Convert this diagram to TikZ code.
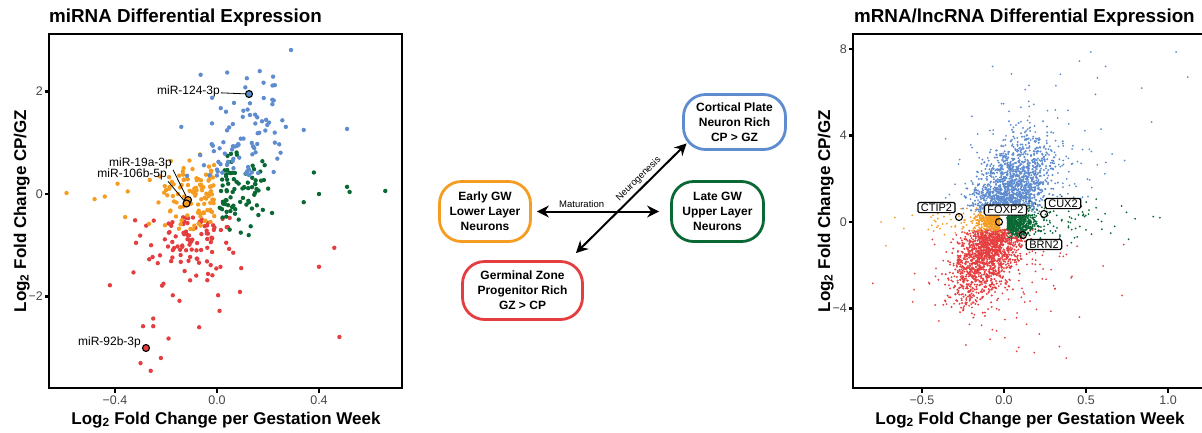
\documentclass[tikz,border=0pt]{standalone}
\usepackage{fontspec}
\setmainfont{Liberation Sans}
\usetikzlibrary{arrows.meta}

\definecolor{cpblue}{RGB}{94,140,206}
\definecolor{gzred}{RGB}{229,62,64}
\definecolor{eworange}{RGB}{245,156,34}
\definecolor{lwgreen}{RGB}{10,104,52}
\definecolor{tickgray}{RGB}{70,70,70}

\tikzset{
  panel/.style={line width=1.7pt},
  axtick/.style={line width=2.8pt},
  ticklabel/.style={text=tickgray, font=\fontsize{12.5}{14}\selectfont, inner sep=0pt},
  axtitle/.style={font=\bfseries\fontsize{17}{20}\selectfont, inner sep=0pt, anchor=base},
  plottitle/.style={font=\bfseries\fontsize{18.8}{22}\selectfont, inner sep=0pt, anchor=base west},
  state/.style={draw, line width=2.8pt, rounded corners=22pt, align=center, font=\bfseries\fontsize{12}{15}\selectfont},
  flow/.style={<->, >={Stealth[length=12pt, width=12pt, inset=4pt]}, line width=2pt},
  flowlabel/.style={font=\fontsize{9.5}{11}\selectfont, inner sep=3pt},
  mirlabel/.style={font=\fontsize{12}{14}\selectfont, inner sep=1pt, anchor=east},
  leader/.style={line width=0.8pt},
  gene/.style={draw, fill=white, line width=1.2pt, rounded corners=1.5pt, font=\fontsize{11}{12}\selectfont, inner xsep=3pt, inner ysep=1.2pt},
  hit/.style={circle, draw, line width=1.1pt, inner sep=0pt, minimum size=7pt},
}

\begin{document}
\begin{tikzpicture}[x=1pt, y=-1pt]
    \useasboundingbox (0,0) rectangle (1202,432);

    % Titles
    \node[plottitle] (mititle) at (49,22) {miRNA Differential Expression};
    \node[plottitle] (mrtitle) at (854,22) {mRNA/lncRNA Differential Expression};

    % miRNA scatter
    \begin{scope}
        \clip (49,34) rectangle (402,388);
        \begin{scope}[shift={(217,194)}, x=255pt, y=51.25pt]
            \pgfmathsetseed{11}
            \foreach \i in {1,...,105}{
                \pgfmathsetmacro\nx{rand+rand+rand}
                \pgfmathsetmacro\ny{rand+rand+rand}
                \pgfmathsetmacro\py{-0.45-0.65*abs(\ny)}
                \pgfmathsetmacro\px{-0.09+0.085*\nx+0.03*\py}
                \fill[gzred] (\px,\py) circle (2.2pt);
            }
            \foreach \px/\py in {0.46/-1.05, 0.48/-2.79, 0.40/-1.42, 0.01/-2.28, -0.30/-3.3, -0.26/-3.45,
                -0.22/-3.2, -0.19/-2.82, -0.29/-2.58, -0.25/-2.58, -0.25/-2.43, -0.07/-2.6, -0.42/-1.78, 0.09/-1.91}
                \fill[gzred] (\px,\py) circle (2.2pt);
            \foreach \i in {1,...,110}{
                \pgfmathsetmacro\nx{rand+rand+rand}
                \pgfmathsetmacro\ny{rand+rand+rand}
                \pgfmathsetmacro\px{-0.01-0.11*abs(\nx)}
                \pgfmathsetmacro\py{0.05+0.35*\ny}
                \fill[eworange] (\px,\py) circle (2.2pt);
            }
            \foreach \px/\py in {-0.59/0.02, -0.48/-0.1, -0.44/-0.05, -0.39/0.2, -0.36/-0.45, -0.35/0.05}
                \fill[eworange] (\px,\py) circle (2.2pt);
            \foreach \i in {1,...,80}{
                \pgfmathsetmacro\nx{rand+rand+rand}
                \pgfmathsetmacro\ny{rand+rand+rand}
                \pgfmathsetmacro\px{0.01+0.09*abs(\nx)}
                \pgfmathsetmacro\py{0.05+0.35*\ny}
                \fill[lwgreen] (\px,\py) circle (2.2pt);
            }
            \foreach \px/\py in {0.66/0.06, 0.38/0.42, 0.51/0.14, 0.52/0.04, 0.40/0.0, 0.34/-0.16}
                \fill[lwgreen] (\px,\py) circle (2.2pt);
            \foreach \i in {1,...,85}{
                \pgfmathsetmacro\nx{rand+rand+rand}
                \pgfmathsetmacro\ny{rand+rand+rand}
                \pgfmathsetmacro\py{0.35+0.9*abs(\ny)}
                \pgfmathsetmacro\px{0.04+0.09*\nx+0.04*\py}
                \fill[cpblue] (\px,\py) circle (2.2pt);
            }
            \foreach \px/\py in {0.29/2.81, 0.51/1.27, 0.22/2.29, 0.04/2.37, 0.34/1.25, -0.14/1.31, 0.27/1.31}
                \fill[cpblue] (\px,\py) circle (2.2pt);
        \end{scope}
    \end{scope}

    % miRNA highlights
    \node[hit, fill=cpblue] (m124) at (249,94) {};
    \node[hit, fill=eworange] (m19a) at (188,200) {};
    \node[hit, fill=eworange] (m106b) at (186.5,203.5) {};
    \node[hit, fill=gzred] (m92b) at (146,348) {};
    \node[mirlabel] (l124) at (221,91.5) {miR-124-3p};
    \node[mirlabel] (l19a) at (173,163) {miR-19a-3p};
    \node[mirlabel] (l106b) at (168,174.5) {miR-106b-5p};
    \node[mirlabel] (l92b) at (142,342) {miR-92b-3p};
    \draw[leader] (l124) -- (m124);
    \draw[leader] (l19a.south east) -- (m19a);
    \draw[leader] (l106b.south east) -- (m106b);

    % miRNA axes
    \draw[panel] (49,34) rectangle (402,388);
    \foreach \x/\t [count=\k] in {115/−0.4, 217/0.0, 319/0.4}{
        \draw[axtick] (\x,388) -- (\x,392.5);
        \node[ticklabel, anchor=base] (mix\k) at (\x,404) {\t};
    }
    \foreach \y/\t [count=\k] in {91.5/2, 194/0, 296.5/−2}{
        \draw[axtick] (49,\y) -- (44.5,\y);
        \node[ticklabel, anchor=east] (miy\k) at (43,\y) {\t};
    }
    \node[axtitle] (mixtitle) at (226,424) {Log\textsubscript{2} Fold Change per Gestation Week};
    \node[axtitle, rotate=90] (miytitle) at (26,211) {Log\textsubscript{2} Fold Change CP/GZ};

    % mRNA scatter
    \begin{scope}
        \clip (853,34) rectangle (1202,388);
        \begin{scope}[shift={(1004,222)}, x=164pt, y=21.6pt]
            \pgfmathsetseed{23}
            \foreach \i in {1,...,220}{
                \pgfmathsetmacro\nx{rand+rand+rand}
                \pgfmathsetmacro\ny{rand+rand+rand}
                \pgfmathsetmacro\py{0.8+2.3*abs(\ny)}
                \pgfmathsetmacro\px{0.04+0.22*\nx+0.04*\py}
                \fill[cpblue] (\px,\py) circle (1pt);
            }
            \foreach \px/\py in {1.05/7.87, 1.12/6.71, 0.53/7.87, 0.84/6.2, 0.90/4.63, -0.07/7.2, 0.46/7.45, 0.62/7.2, 0.57/6.67}
                \fill[cpblue] (\px,\py) circle (1pt);
            \foreach \i in {1,...,1400}{
                \pgfmathsetmacro\nx{rand+rand+rand}
                \pgfmathsetmacro\ny{rand+rand+rand}
                \pgfmathsetmacro\py{0.45+1.5*abs(\ny)}
                \pgfmathsetmacro\px{-0.02+0.1*\nx+0.04*\py}
                \fill[cpblue] (\px,\py) circle (1.1pt);
            }
            \foreach \i in {1,...,1400}{
                \pgfmathsetmacro\nx{rand+rand+rand}
                \pgfmathsetmacro\ny{rand+rand+rand}
                \pgfmathsetmacro\py{-0.35-1.5*abs(\ny)}
                \pgfmathsetmacro\px{-0.03+0.09*\nx+0.05*\py}
                \fill[gzred] (\px,\py) circle (1.1pt);
            }
            \foreach \i in {1,...,160}{
                \pgfmathsetmacro\nx{rand+rand+rand}
                \pgfmathsetmacro\ny{rand+rand+rand}
                \pgfmathsetmacro\py{-0.8-2*abs(\ny)}
                \pgfmathsetmacro\px{0.0+0.22*\nx}
                \fill[gzred] (\px,\py) circle (1pt);
            }
            \foreach \px/\py in {0.72/-3.4, 0.73/-1.05, -0.8/-2.84, 0.46/-4.4, 0.38/-6.3}
                \fill[gzred] (\px,\py) circle (1pt);
            \foreach \i in {1,...,350}{
                \pgfmathsetmacro\nx{rand+rand+rand}
                \pgfmathsetmacro\ny{rand+rand+rand}
                \pgfmathsetmacro\px{-0.025-0.06*abs(\nx)}
                \pgfmathsetmacro\py{0.05+0.22*\ny}
                \fill[eworange] (\px,\py) circle (1.1pt);
            }
            \foreach \i in {1,...,70}{
                \pgfmathsetmacro\nx{rand+rand+rand}
                \pgfmathsetmacro\ny{rand+rand+rand}
                \pgfmathsetmacro\px{-0.1-0.2*abs(\nx)}
                \pgfmathsetmacro\py{0.1+0.35*\ny}
                \fill[eworange] (\px,\py) circle (1pt);
            }
            \foreach \px/\py in {-0.72/-1.1, -0.61/-0.3, -0.75/0.0}
                \fill[eworange] (\px,\py) circle (1pt);
            \foreach \i in {1,...,450}{
                \pgfmathsetmacro\nx{rand+rand+rand}
                \pgfmathsetmacro\ny{rand+rand+rand}
                \pgfmathsetmacro\px{0.02+0.08*abs(\nx)}
                \pgfmathsetmacro\py{-0.05+0.28*\ny}
                \fill[lwgreen] (\px,\py) circle (1.1pt);
            }
            \foreach \i in {1,...,100}{
                \pgfmathsetmacro\nx{rand+rand+rand}
                \pgfmathsetmacro\ny{rand+rand+rand}
                \pgfmathsetmacro\px{0.15+0.25*abs(\nx)}
                \pgfmathsetmacro\py{0.1+0.5*\ny}
                \fill[lwgreen] (\px,\py) circle (1pt);
            }
            \foreach \px/\py in {0.95/0.2, 0.91/0.25, 0.8/0.15, 0.76/-0.8}
                \fill[lwgreen] (\px,\py) circle (1pt);
        \end{scope}
    \end{scope}

    % mRNA highlights
    \node[hit] (ctipdot) at (959,217) {};
    \node[hit] (foxdot) at (999,222) {};
    \node[hit] (cuxdot) at (1044,214) {};
    \node[hit] (brndot) at (1023,235) {};
    \node[gene] (ctip) at (936.5,207.5) {CTIP2};
    \node[gene] (fox) at (1005.5,210) {FOXP2};
    \node[gene] (cux) at (1063,203.5) {CUX2};
    \node[gene] (brn) at (1044,244.5) {BRN2};

    % mRNA axes
    \draw[panel] (1202,34) -- (853,34) -- (853,388) -- (1202,388);
    \foreach \x/\t [count=\k] in {922/−0.5, 1004/0.0, 1086/0.5, 1168/1.0}{
        \draw[axtick] (\x,388) -- (\x,392.5);
        \node[ticklabel, anchor=base] (mrx\k) at (\x,404) {\t};
    }
    \foreach \y/\t [count=\k] in {49/8, 135.6/4, 222/0, 308.4/−4}{
        \draw[axtick] (853,\y) -- (848.5,\y);
        \node[ticklabel, anchor=east] (mry\k) at (847,\y) {\t};
    }
    \node[axtitle] (mrxtitle) at (1030,424) {Log\textsubscript{2} Fold Change per Gestation Week};
    \node[axtitle, rotate=90] (mrytitle) at (830,211) {Log\textsubscript{2} Fold Change CP/GZ};

    % States
    \node[state, draw=cpblue, minimum width=102pt, minimum height=55pt] (cortical) at (734.5,122) {Cortical Plate\\Neuron Rich\\CP > GZ};
    \node[state, draw=eworange, minimum width=91pt, minimum height=60pt] (early) at (485,211.5) {Early GW\\Lower Layer\\Neurons};
    \node[state, draw=lwgreen, minimum width=92pt, minimum height=60pt] (late) at (717.5,211.5) {Late GW\\Upper Layer\\Neurons};
    \node[state, draw=gzred, minimum width=120pt, minimum height=58pt] (germinal) at (522.5,290.5) {Germinal Zone\\Progenitor Rich\\GZ > CP};

    % Draw arrows
    \draw[flow, shorten <=5pt, shorten >=11pt] (early) -- (late) node[flowlabel, pos=0.36, above] (matlabel) {Maturation};
    \draw[flow] ([shift={(-8,-7)}]germinal.north east) -- ([shift={(4.5,-7.5)}]cortical.south west) node[flowlabel, pos=0.62, sloped, above] (neurolabel) {Neurogenesis};
\end{tikzpicture}
\end{document}
